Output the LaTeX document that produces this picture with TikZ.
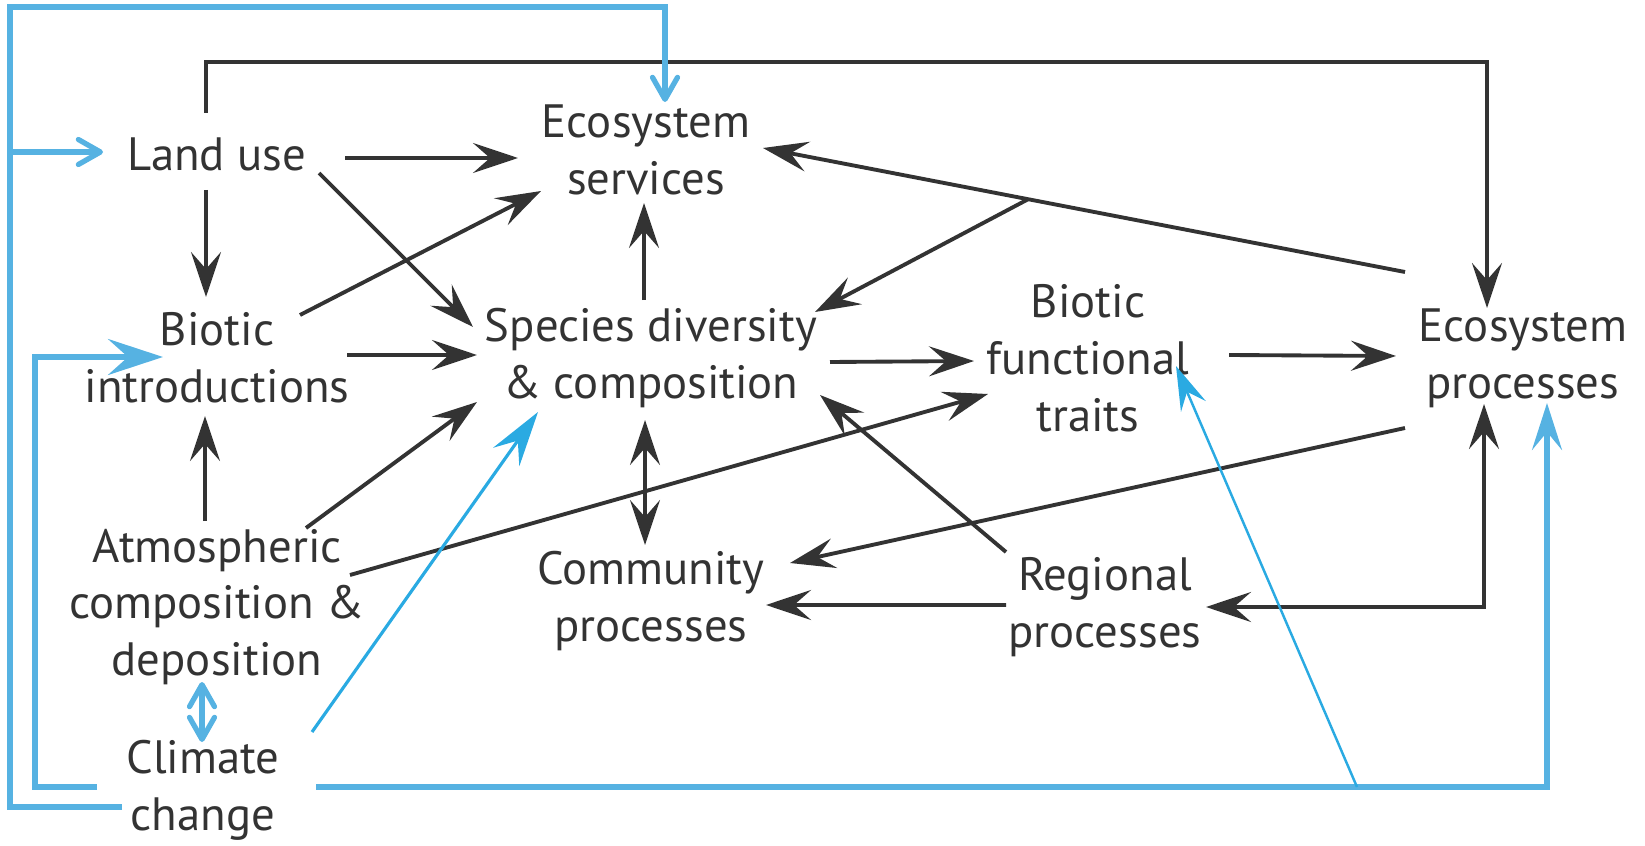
\documentclass[tikz,border=0pt]{standalone}
\usepackage{fontspec}
\setmainfont{PT Sans}
\usepackage{tikz}
\usepackage{xcolor}
\usetikzlibrary{arrows.meta}
\definecolor{darkline}{RGB}{51,51,51}
\definecolor{climblue}{RGB}{86,178,226}
\definecolor{thinblue}{RGB}{42,170,226}
\tikzstyle{factor} = [align=center, text=darkline, inner sep=0pt, font=\fontsize{13.3}{16.2}\selectfont]
\tikzstyle{arrow} = [draw=darkline, line width=1.1pt, ->, >={Stealth[length=4.5mm,width=3mm,inset=1.7mm]}]
\tikzstyle{climbar} = [draw=climblue, line width=1.5pt, ->, >={Straight Barb[length=2.2mm,width=2.5mm,round]}]
\tikzstyle{climarrow} = [draw=climblue, line width=1.5pt, ->, >={Stealth[length=5.5mm,width=3.6mm,inset=2mm]}]
\tikzstyle{thinarrow} = [draw=thinblue, line width=0.7pt, ->, >={Stealth[length=4.4mm,width=2.7mm,inset=1.6mm]}]

\begin{document}
\begin{tikzpicture}[node distance=2.04cm]
\useasboundingbox (0,0) rectangle (16.45,8.45);
\node (landuse) [factor] at (2.17,6.91) {Land use};
\node (ecoserv) [factor, right of=landuse, xshift=2.25cm, yshift=0.04cm] {Ecosystem\\services};
\node (bioint) [factor, below of=landuse] {Biotic\\introductions};
\node (species) [factor, right of=bioint, xshift=2.3cm] {Species diversity\\\& composition};
\node (traits) [factor, right of=species, xshift=2.33cm] {Biotic\\functional\\traits};
\node (ecoproc) [factor, right of=traits, xshift=2.31cm] {Ecosystem\\processes};
\node (atmos) [factor, below of=bioint, yshift=-0.45cm] {Atmospheric\\composition \&\\deposition};
\node (community) [factor, below of=species, yshift=-0.39cm] {Community\\processes};
\node (regional) [factor, right of=community, xshift=2.5cm, yshift=-0.06cm] {Regional\\processes};
\node (climate) [factor, below of=atmos, xshift=-0.14cm, yshift=0.21cm] {Climate\\change};

\draw [arrow] ([shift={(1.28,-0.04)}]landuse.center) -- ([shift={(-1.28,-0.08)}]ecoserv.center);
\draw [arrow] ([shift={(1.02,-0.19)}]landuse.center) -- ([shift={(-1.78,0.31)}]species.center);
\draw [arrow] ([shift={(-0.11,-0.36)}]landuse.center) -- ([shift={(-0.11,0.61)}]bioint.center);
\draw [arrow] ([shift={(0.83,0.43)}]bioint.center) -- ([shift={(-1.05,-0.41)}]ecoserv.center);
\draw [arrow] ([shift={(1.30,0.03)}]bioint.center) -- ([shift={(-1.74,0.03)}]species.center);
\draw [arrow] ([shift={(-0.07,0.58)}]species.center) -- ([shift={(-0.02,-0.53)}]ecoserv.center);
\draw [arrow] ([shift={(-0.12,0.86)}]atmos.center) -- ([shift={(-0.12,-0.58)}]bioint.center);
\draw [arrow] ([shift={(0.89,0.79)}]atmos.center) -- ([shift={(-1.74,-0.44)}]species.center);
\draw [arrow] ([shift={(1.33,0.32)}]atmos.center) -- ([shift={(-1.00,-0.36)}]traits.center);
\draw [arrow, <->] ([shift={(-0.06,-0.62)}]species.center) -- ([shift={(-0.06,0.56)}]community.center);
\draw [arrow] ([shift={(1.79,-0.04)}]species.center) -- ([shift={(-1.14,-0.03)}]traits.center);
\draw [arrow] ([shift={(1.41,0.03)}]traits.center) -- ([shift={(-1.27,0.02)}]ecoproc.center);
\draw [arrow] ([shift={(-0.11,0.41)}]landuse.center) -- ++(0,0.51) -| ([shift={(-0.36,0.50)}]ecoproc.center);
\draw [arrow] ([shift={(-1.18,0.86)}]ecoproc.center) -- coordinate[pos=0.587] (fork) ([shift={(1.17,0.02)}]ecoserv.center);
\draw [arrow] (fork) -- ([shift={(1.64,0.46)}]species.center);
\draw [arrow] ([shift={(-1.18,-0.70)}]ecoproc.center) -- ([shift={(1.39,0.38)}]community.center);
\draw [arrow] ([shift={(-0.99,0.55)}]regional.center) -- ([shift={(1.69,-0.37)}]species.center);
\draw [arrow] ([shift={(-0.99,0.02)}]regional.center) -- ([shift={(1.15,-0.04)}]community.center);
\draw [arrow, <->] ([shift={(-0.39,-0.46)}]ecoproc.center) |- ([shift={(1.01,0)}]regional.center);

\draw [climbar] ([shift={(-0.81,-0.17)}]climate.center) -- ++(-1.12,0) coordinate (rail) -- ++(0,8.00) -| ([shift={(0.19,0.48)}]ecoserv.center);
\coordinate (landin) at ([shift={(-1.14,0.02)}]landuse.center);
\draw [climbar] (rail |- landin) -- (landin);
\draw [climarrow] ([shift={(-1.06,0.03)}]climate.center) -- ++(-0.62,0) |- ([shift={(-0.54,0.01)}]bioint.center);
\draw [climbar, <->] ([shift={(-0.15,-0.75)}]atmos.center) -- ([shift={(-0.01,0.48)}]climate.center);
\draw [climarrow, >={Stealth[length=4.7mm,width=3mm,inset=1.8mm]}] ([shift={(1.13,0.03)}]climate.center) coordinate (floor) -| ([shift={(0.24,-0.45)}]ecoproc.center);
\draw [thinarrow, line width=0.9pt, >={Stealth[length=5.5mm,width=3.2mm,inset=2mm]}] ([shift={(1.09,0.58)}]climate.center) -- ([shift={(-1.13,-0.54)}]species.center);
\draw [thinarrow] ([xshift=10.41cm]floor) -- ([shift={(0.88,-0.08)}]traits.center);
\end{tikzpicture}
\end{document}
